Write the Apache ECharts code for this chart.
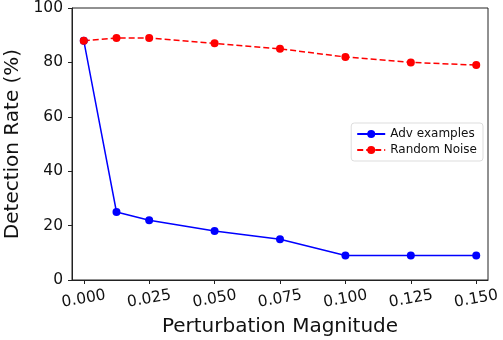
<!DOCTYPE html>
<html>
<head>
<meta charset="utf-8">
<script src="https://cdn.jsdelivr.net/npm/echarts@6/dist/echarts.min.js"></script>
<style>
  html, body { margin: 0; padding: 0; background: #fff; }
  #chart { width: 503px; height: 340px; }
</style>
</head>
<body>
<div id="chart"></div>
<script>
const magnitudes = [0, 0.0125, 0.025, 0.05, 0.075, 0.1, 0.125, 0.15]
const advValues = [88, 25, 22, 18, 15, 9, 9, 9]
const noiseValues = [88, 89, 89, 87, 85, 82, 80, 79]
const xTicks = [0, 0.025, 0.05, 0.075, 0.1, 0.125, 0.15]

const pairs = (ys) => magnitudes.map((x, i) => [x, ys[i]])

const chart = echarts.init(document.getElementById('chart'))
const textColor = '#111'
const font = 'DejaVu Sans'

const option = {
  animation: false,
  grid: {
    left: 72,
    right: 15,
    top: 8,
    bottom: 60,
    outerBoundsMode: 'none',
    show: true,
    borderColor: '#222',
    borderWidth: 1
  },
  legend: {
    right: 20,
    top: 123,
    orient: 'vertical',
    itemWidth: 28,
    itemHeight: 10,
    itemGap: 4,
    padding: [5, 6, 5, 5],
    borderColor: '#ddd',
    borderWidth: 1,
    borderRadius: 3,
    textStyle: { fontFamily: font, fontSize: 12, color: textColor },
    data: ['Adv examples', 'Random Noise']
  },
  xAxis: {
    type: 'value',
    min: -0.0045,
    max: 0.1545,
    name: 'Perturbation Magnitude',
    nameLocation: 'middle',
    nameGap: 37,
    nameTextStyle: { fontFamily: font, fontSize: 20, color: textColor },
    axisLine: { show: true, onZero: false, lineStyle: { color: '#222' } },
    axisTick: {
      show: true,
      length: 4,
      customValues: xTicks,
      lineStyle: { color: '#222' }
    },
    axisLabel: {
      customValues: xTicks,
      rotate: 10,
      align: 'center',
      verticalAlign: 'middle',
      margin: 19,
      fontFamily: font,
      fontSize: 15.5,
      color: textColor,
      formatter: (v) => v.toFixed(3)
    },
    splitLine: { show: false }
  },
  yAxis: {
    type: 'value',
    min: 0,
    max: 100,
    interval: 20,
    name: 'Detection Rate (%)',
    nameLocation: 'middle',
    nameGap: 47,
    nameTextStyle: { fontFamily: font, fontSize: 20, color: textColor },
    axisLine: { show: true, onZero: false, lineStyle: { color: '#222' } },
    axisTick: { show: true, length: 4, lineStyle: { color: '#222' } },
    axisLabel: { fontFamily: font, fontSize: 15.5, color: textColor, margin: 9 },
    splitLine: { show: false }
  },
  series: [
    {
      name: 'Adv examples',
      type: 'line',
      data: pairs(advValues),
      symbol: 'circle',
      symbolSize: 8,
      color: '#0000ff',
      lineStyle: { width: 1.5, color: '#0000ff' },
      itemStyle: { color: '#0000ff' }
    },
    {
      name: 'Random Noise',
      type: 'line',
      data: pairs(noiseValues),
      symbol: 'circle',
      symbolSize: 8,
      color: '#ff0000',
      lineStyle: { width: 1.5, type: [6, 3], color: '#ff0000' },
      itemStyle: { color: '#ff0000' }
    }
  ]
}
chart.setOption(option)
</script>
</body>
</html>
